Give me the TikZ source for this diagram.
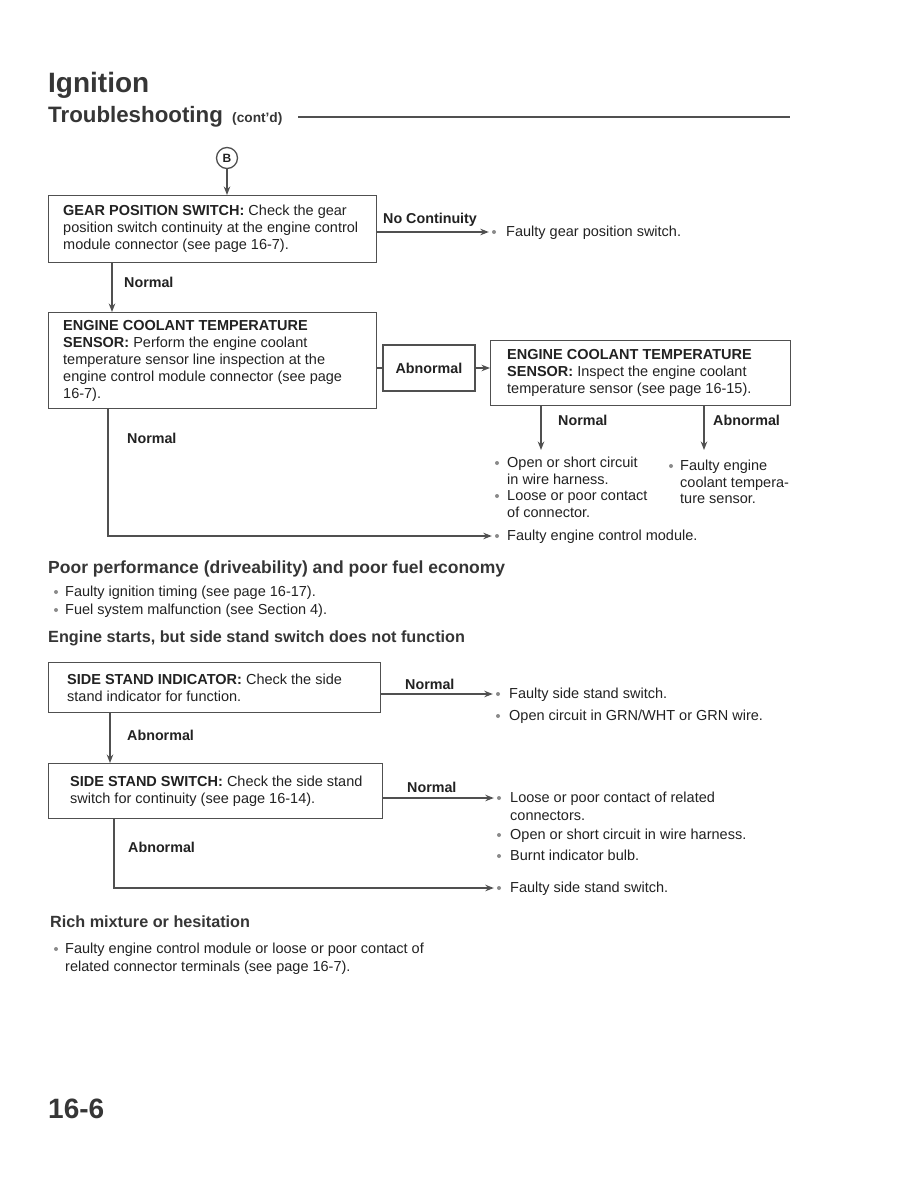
\documentclass[tikz,border=0pt]{standalone}
\usepackage{fontspec}
\setmainfont{Liberation Sans}
\usetikzlibrary{arrows.meta,calc}
\definecolor{ink}{HTML}{222222}
\definecolor{linec}{HTML}{505050}
\definecolor{bulc}{HTML}{8A8A8A}
\definecolor{headc}{HTML}{363636}
\begin{document}
\begin{tikzpicture}[x=1pt,y=-1pt,
  every node/.style={text=ink, inner sep=0pt},
  body/.style={font=\fontsize{14.5}{17}\selectfont, anchor=base west},
  lab/.style={font=\fontsize{14.3}{17}\selectfont\bfseries, anchor=base west},
  head/.style={font=\fontsize{16.2}{19}\selectfont\bfseries, anchor=base west, text=headc},
  box/.style={draw=linec, line width=1.4pt, anchor=north west},
  boxtext/.style={anchor=west, align=left, font=\fontsize{14.5}{17}\selectfont},
  conn/.style={draw=linec, line width=1.3pt},
  arr/.style={conn, -{Stealth[length=8.5pt,width=6.5pt]}},
  bul/.style={circle, fill=bulc, minimum size=4pt, inner sep=0pt}
]
\useasboundingbox[fill=white] (0,0) rectangle (918,1188);

% header
\node[anchor=base west, font=\fontsize{28}{30}\selectfont\bfseries, text=headc] (title) at (48,93) {Ignition};
\node[anchor=base west, font=\fontsize{22.3}{24}\selectfont\bfseries, text=headc] (sub) at (48,123) {Troubleshooting};
\node[anchor=base west, font=\fontsize{13.7}{15}\selectfont\bfseries, text=headc] (contd) at (232,123) {(cont'd)};
\coordinate (rl) at (298,117);
\coordinate (rr) at (790,117);
\draw[draw=linec, line width=1.6pt] (rl) -- (rr);

% connector B
\node[circle, draw=linec, line width=1.3pt, minimum size=21pt, font=\fontsize{12}{13}\selectfont\bfseries] (B) at (227,158) {B};

% box 1
\node[box, minimum width=328pt, minimum height=67pt] (b1) at (48,195) {};
\node[boxtext] (b1t) at ([xshift=15pt]b1.west)
  {\textbf{GEAR POSITION SWITCH:} Check the gear\\position switch continuity at the engine control\\module connector (see page 16-7).};
\draw[arr] (B.south) -- (B |- b1.north);

\node[lab] (nc) at (383,223) {No Continuity};
\node[bul] (u1) at (494,232) {};
\node[body] (t1) at (506,236) {Faulty gear position switch.};
\draw[arr] (b1.east |- u1) -- ([xshift=-3pt]u1.west);

% box 2
\node[box, minimum width=328pt, minimum height=96pt] (b2) at (48,312) {};
\node[boxtext] (b2t) at ([xshift=15pt]b2.west)
  {\textbf{ENGINE COOLANT TEMPERATURE}\\\textbf{SENSOR:} Perform the engine coolant\\temperature sensor line inspection at the\\engine control module connector (see page\\16-7).};
\coordinate (x1) at (112,0);
\draw[arr] (b1.south -| x1) -- (b2.north -| x1);
\node[lab] (n1) at (124,287) {Normal};

% abnormal box
\node[box, anchor=center, minimum width=92pt, minimum height=46pt, font=\fontsize{14.3}{17}\selectfont\bfseries] (ab) at (429,368) {Abnormal};
\draw[conn] (b2.east |- ab) -- (ab.west);

% box 3
\node[box, minimum width=300pt, minimum height=65pt] (b3) at (490,340) {};
\node[boxtext] (b3t) at ([xshift=17pt]b3.west)
  {\textbf{ENGINE COOLANT TEMPERATURE}\\\textbf{SENSOR:} Inspect the engine coolant\\temperature sensor (see page 16-15).};
\draw[arr] (ab.east) -- (b3.west |- ab);

\coordinate (x3) at (541,0);
\coordinate (x4) at (704,0);
\coordinate (y3) at (0,450);
\draw[arr] (b3.south -| x3) -- (x3 |- y3);
\draw[arr] (b3.south -| x4) -- (x4 |- y3);
\node[lab] (n3) at (558,425) {Normal};
\node[lab] (a3) at (713,425) {Abnormal};

\node[bul] (u2) at (497,463) {};
\node[body] (t2a) at (507,467) {Open or short circuit};
\node[body] (t2b) at (507,484) {in wire harness.};
\node[bul] (u3) at (497,496) {};
\node[body] (t3a) at (507,500) {Loose or poor contact};
\node[body] (t3b) at (507,517) {of connector.};
\node[bul] (u4) at (671,466) {};
\node[body] (t4a) at (680,470) {Faulty engine};
\node[body] (t4b) at (680,487) {coolant tempera-};
\node[body] (t4c) at (680,503) {ture sensor.};

\coordinate (x2) at (108,0);
\node[bul] (u5) at (497,536) {};
\node[body] (t5) at (507,540) {Faulty engine control module.};
\draw[arr] (b2.south -| x2) |- ([xshift=-3pt]u5.west);
\node[lab] (n2) at (127,443) {Normal};

% poor performance
\node[head, font=\fontsize{17.5}{19}\selectfont\bfseries] (h1) at (48,573) {Poor performance (driveability) and poor fuel economy};
\node[bul] (u6) at (56,592) {};
\node[body] (t6) at (65,596) {Faulty ignition timing (see page 16-17).};
\node[bul] (u7) at (56,610) {};
\node[body] (t7) at (65,614) {Fuel system malfunction (see Section 4).};

% side stand
\node[head] (h2) at (48,642) {Engine starts, but side stand switch does not function};
\node[box, minimum width=332pt, minimum height=50pt] (b4) at (48,662) {};
\node[boxtext] (b4t) at ([xshift=19pt]b4.west)
  {\textbf{SIDE STAND INDICATOR:} Check the side\\stand indicator for function.};
\node[lab] (n4) at (405,689) {Normal};
\node[bul] (u8) at (498,694) {};
\node[body] (t8) at (509,698) {Faulty side stand switch.};
\node[bul] (u9) at (498,716) {};
\node[body] (t9) at (509,720) {Open circuit in GRN/WHT or GRN wire.};
\draw[arr] (b4.east |- u8) -- ([xshift=-3pt]u8.west);

\node[box, minimum width=334pt, minimum height=55pt] (b5) at (48,763) {};
\node[boxtext] (b5t) at ([xshift=22pt]b5.west)
  {\textbf{SIDE STAND SWITCH:} Check the side stand\\switch for continuity (see page 16-14).};
\coordinate (x5) at (110,0);
\draw[arr] (b4.south -| x5) -- (b5.north -| x5);
\node[lab] (a4) at (127,740) {Abnormal};

\node[lab] (n5) at (407,792) {Normal};
\node[bul] (u10) at (499,798) {};
\node[body] (t10a) at (510,802) {Loose or poor contact of related};
\node[body] (t10b) at (510,820) {connectors.};
\node[bul] (u11) at (499,835) {};
\node[body] (t11) at (510,839) {Open or short circuit in wire harness.};
\node[bul] (u12) at (499,856) {};
\node[body] (t12) at (510,860) {Burnt indicator bulb.};
\draw[arr] (b5.east |- u10) -- ([xshift=-3pt]u10.west);

\coordinate (x6) at (114,0);
\node[bul] (u13) at (499,888) {};
\node[body] (t13) at (510,892) {Faulty side stand switch.};
\draw[arr] (b5.south -| x6) |- ([xshift=-3pt]u13.west);
\node[lab] (a5) at (128,852) {Abnormal};

% rich mixture
\node[head] (h3) at (50,927) {Rich mixture or hesitation};
\node[bul] (u14) at (56,949) {};
\node[body] (t14a) at (65,953) {Faulty engine control module or loose or poor contact of};
\node[body] (t14b) at (65,971) {related connector terminals (see page 16-7).};

% page number
\node[anchor=base west, font=\fontsize{28}{30}\selectfont\bfseries, text=headc] (pg) at (48,1118) {16-6};
\end{tikzpicture}
\end{document}
